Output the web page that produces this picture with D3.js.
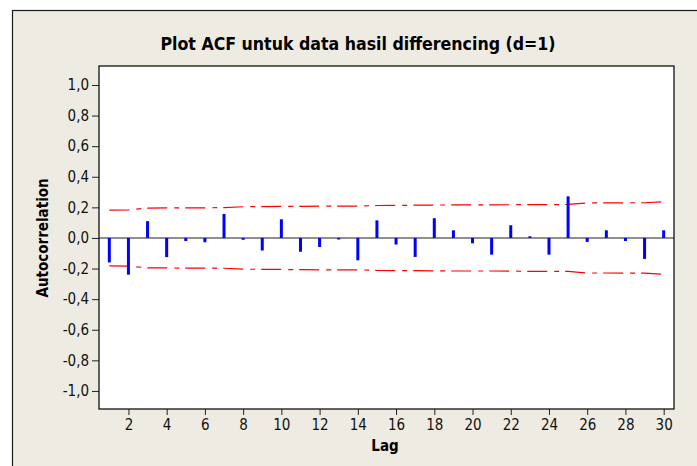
<!DOCTYPE html>
<html>
<head>
<meta charset="utf-8">
<script src="https://cdn.jsdelivr.net/npm/d3@7"></script>
<style>
  body { margin: 0; background: #ffffff; }
  svg { display: block; }
</style>
</head>
<body>
<svg id="Canvas" width="697" height="466"></svg>
<script>
var lags = [1, 2, 3, 4, 5, 6, 7, 8, 9, 10, 11, 12, 13, 14, 15,
  16, 17, 18, 19, 20, 21, 22, 23, 24, 25, 26, 27, 28, 29, 30];
var acf = [-0.16, -0.24, 0.11, -0.125, -0.02, -0.028, 0.157, -0.012, -0.082, 0.122,
  -0.09, -0.059, -0.01, -0.146, 0.115, -0.043, -0.124, 0.129, 0.05, -0.035,
  -0.109, 0.083, 0.011, -0.109, 0.272, -0.026, 0.05, -0.02, -0.137, 0.05];
// upper 5% limit, lower one is the mirror
var limit = [0.182, 0.184, 0.195, 0.196, 0.197, 0.197, 0.198, 0.204, 0.205, 0.206,
  0.207, 0.208, 0.208, 0.208, 0.212, 0.213, 0.214, 0.215, 0.216, 0.216,
  0.216, 0.217, 0.218, 0.218, 0.219, 0.229, 0.229, 0.230, 0.230, 0.237];
var yTicks = [-1.0, -0.8, -0.6, -0.4, -0.2, 0.0, 0.2, 0.4, 0.6, 0.8, 1.0];
var xTicks = [2, 4, 6, 8, 10, 12, 14, 16, 18, 20, 22, 24, 26, 28, 30];

function drawAcf() {
  var font = "'DejaVu Sans Condensed', 'DejaVu Sans', sans-serif";
  var svg = d3.select("#Canvas");

  var pLeft = 99, pRight = 674, pTop = 66, pBottom = 409;

  var x = d3.scaleLinear().domain([0.46, 30.54]).range([pLeft, pRight]);
  var y = d3.scaleLinear().domain([-1.118, 1.124]).range([pBottom, pTop]);

  function fmt(v) {
    return Math.abs(v) < 1e-9 ? "0,0" : v.toFixed(1).replace(".", ",");
  }

  // outer panel
  svg.append("rect")
    .attr("x", 12.5).attr("y", 10.5)
    .attr("width", 700).attr("height", 470)
    .style("fill", "#eeebe2")
    .style("stroke", "#1a1a1a")
    .style("stroke-width", 1.2);

  // plot area
  svg.append("rect")
    .attr("x", pLeft).attr("y", pTop)
    .attr("width", pRight - pLeft).attr("height", pBottom - pTop)
    .style("fill", "#ffffff");

  // title
  svg.append("text")
    .attr("x", 358).attr("y", 50)
    .attr("text-anchor", "middle")
    .style("font-family", font)
    .style("font-weight", "bold")
    .style("font-size", "17.6px")
    .text("Plot ACF untuk data hasil differencing (d=1)");

  // axes
  var yAxis = d3.axisLeft(y).tickValues(yTicks).tickSize(7).tickPadding(3).tickFormat(fmt);
  var xAxis = d3.axisBottom(x).tickValues(xTicks).tickSize(6).tickPadding(4).tickFormat(d3.format("d"));

  var gy = svg.append("g").attr("transform", "translate(" + pLeft + ",0)").call(yAxis);
  var gx = svg.append("g").attr("transform", "translate(0," + pBottom + ")").call(xAxis);
  [gy, gx].forEach(function (g) {
    g.select(".domain").remove();
    g.selectAll(".tick line").style("stroke", "#222").style("stroke-width", 1);
    g.selectAll(".tick text")
      .style("font-family", font)
      .style("font-size", "15px")
      .style("fill", "#111");
  });

  // zero reference line
  svg.append("line")
    .attr("x1", pLeft).attr("x2", pRight)
    .attr("y1", y(0)).attr("y2", y(0))
    .style("stroke", "#6a6a6a")
    .style("stroke-width", 1.5);

  // confidence limits
  var limLine = d3.line()
    .x(function (d, i) { return x(lags[i]); })
    .y(function (d) { return y(d); });

  [1, -1].forEach(function (sgn) {
    svg.append("path")
      .datum(limit.map(function (v) { return sgn * v; }))
      .attr("d", limLine)
      .style("fill", "none")
      .style("stroke", "#ff0000")
      .style("stroke-width", 1.2)
      .style("stroke-dasharray", "20,7,5,6");
  });

  // bars
  svg.selectAll(".bar")
    .data(acf)
    .enter()
    .append("rect")
    .attr("class", "bar")
    .attr("x", function (d, i) { return x(lags[i]) - 1.5; })
    .attr("y", function (d) { return d > 0 ? y(d) : y(0); })
    .attr("width", 3)
    .attr("height", function (d) { return Math.abs(y(d) - y(0)); })
    .style("fill", "#0000ff");

  // plot frame
  svg.append("rect")
    .attr("x", pLeft).attr("y", pTop)
    .attr("width", pRight - pLeft).attr("height", pBottom - pTop)
    .style("fill", "none")
    .style("stroke", "#111")
    .style("stroke-width", 1.3);

  // axis titles
  svg.append("text")
    .attr("x", 385).attr("y", 451)
    .attr("text-anchor", "middle")
    .style("font-family", font)
    .style("font-weight", "bold")
    .style("font-size", "15px")
    .text("Lag");

  svg.append("text")
    .attr("transform", "translate(48," + y(0) + ") rotate(-90)")
    .attr("text-anchor", "middle")
    .style("font-family", font)
    .style("font-weight", "bold")
    .style("font-size", "15px")
    .text("Autocorrelation");
}

drawAcf();
</script>
</body>
</html>
